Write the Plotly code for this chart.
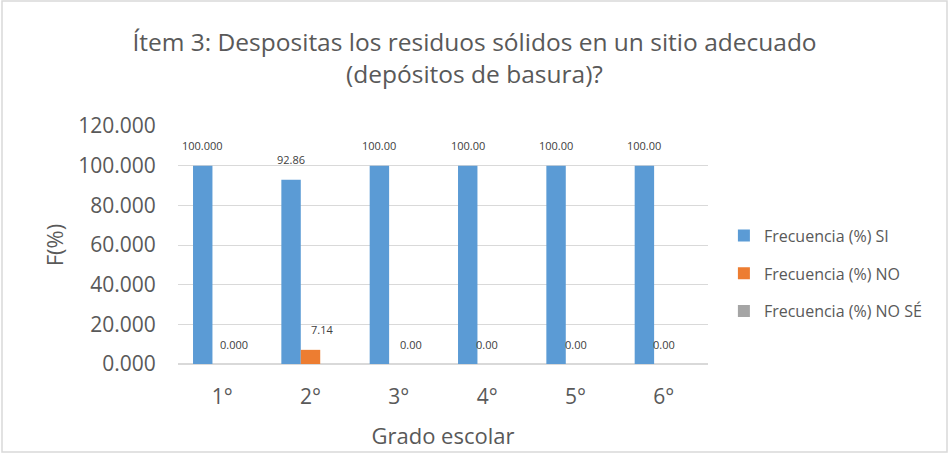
import plotly.graph_objects as go

grados = ["1°", "2°", "3°", "4°", "5°", "6°"]
si = [100.0, 92.86, 100.0, 100.0, 100.0, 100.0]
no = [0.0, 7.14, 0.0, 0.0, 0.0, 0.0]
nose = [0.0, 0.0, 0.0, 0.0, 0.0, 0.0]
si_labels = ["100.000", "92.86", "100.00", "100.00", "100.00", "100.00"]
no_labels = ["0.000", "7.14", "0.00", "0.00", "0.00", "0.00"]
series_names = ["Frecuencia (%) SI", "Frecuencia (%) NO", "Frecuencia (%) NO SÉ"]
y_ticks = [0, 20, 40, 60, 80, 100, 120]
y_tick_text = ["0.000", "20.000", "40.000", "60.000", "80.000", "100.000", "120.000"]

colors = ["#5B9BD5", "#ED7D31", "#A5A5A5"]
FONT = "Open Sans"
TXT = "#595959"

fig = go.Figure()
for i, (vals, name) in enumerate(zip([si, no, nose], series_names)):
    fig.add_trace(go.Bar(x=grados, y=vals, name=name, marker_color=colors[i],
                         marker_line_width=0, legendgroup=str(i)))

annotations = []
bar_w = 19.5
no_nudge = [12, 11, 12, 0, 0, 0]
for j, g in enumerate(grados):
    annotations.append(dict(x=g, y=si[j], text=si_labels[j], showarrow=False,
                            xshift=-bar_w, yshift=20, yanchor="middle",
                            font=dict(family=FONT, size=11, color="#404040")))
    annotations.append(dict(x=g, y=no[j], text=no_labels[j], showarrow=False,
                            xshift=no_nudge[j], yshift=20, yanchor="middle",
                            font=dict(family=FONT, size=11, color="#404040")))

L, R, T, B = 178, 241, 126, 90
W, H = 949, 454
pw, ph = W - L - R, H - T - B
x0 = (2 - L) / pw
x1 = (W - 2 - L) / pw
y1 = (T + ph - 1) / ph
y0 = -(B - 2) / ph

fig.update_layout(
    width=W, height=H,
    margin=dict(l=L, r=R, t=T, b=B, autoexpand=False),
    paper_bgcolor="white", plot_bgcolor="white",
    font=dict(family=FONT, color=TXT),
    title=dict(text="Ítem 3: Despositas los residuos sólidos en un sitio adecuado<br>(depósitos de basura)?",
               x=0.5, xanchor="center", y=0.888, yanchor="middle",
               font=dict(family=FONT, size=24.5, color=TXT)),
    barmode="group", bargap=0.34, bargroupgap=0,
    xaxis=dict(title=dict(text="Grado escolar", font=dict(size=22, color=TXT), standoff=19),
               tickfont=dict(size=21, color=TXT), showgrid=False, showline=False,
               ticks="outside", ticklen=14, tickcolor="rgba(0,0,0,0)", automargin=False),
    yaxis=dict(title=dict(text="F(%)", font=dict(size=22, color=TXT), standoff=8),
               range=[0, 120], tickvals=y_ticks, ticktext=y_tick_text,
               tickfont=dict(size=21, color=TXT), gridcolor="#D9D9D9", gridwidth=1,
               ticks="outside", ticklen=17, tickcolor="rgba(0,0,0,0)", automargin=False,
               zeroline=True, zerolinecolor="#D9D9D9", zerolinewidth=1.5, showline=False),
    legend=dict(x=1.03, y=0.38, xanchor="left", yanchor="middle",
                font=dict(family=FONT, size=16, color=TXT), traceorder="grouped",
                tracegroupgap=14, itemwidth=30),
    annotations=annotations,
    shapes=[dict(type="rect", xref="paper", yref="paper", x0=x0, x1=x1, y0=y0, y1=y1,
                 line=dict(color="#D9D9D9", width=1.5), fillcolor="rgba(0,0,0,0)", layer="below")],
)

fig.write_html("out.html", config={"displayModeBar": False},
               post_script="document.body.style.margin='0';document.body.style.overflow='hidden';")
